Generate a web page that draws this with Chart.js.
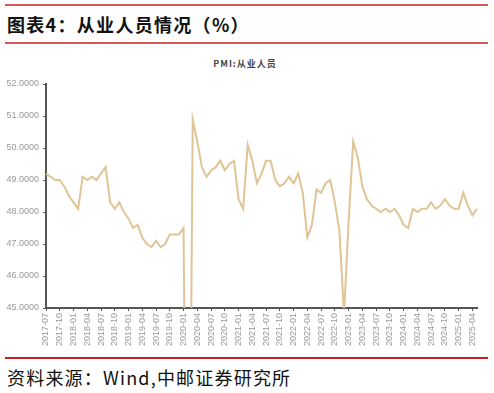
<!DOCTYPE html>
<html>
<head>
<meta charset="utf-8">
<script src="https://cdn.jsdelivr.net/npm/chart.js@4/dist/chart.umd.min.js"></script>
<style>
  body { margin: 0; background: #fff; width: 494px; height: 393px; position: relative; overflow: hidden; }
  .rule { position: absolute; left: 5px; width: 483px; height: 2px; background: #d45a5a; }
  #title { position: absolute; left: 7px; top: 11px; font: bold 18px "Noto Sans CJK SC", sans-serif; letter-spacing: 1.3px; color: #111; }
  #subtitle { position: absolute; left: 0; width: 490px; top: 57px; text-align: center; font: bold 9px "Noto Sans CJK SC", sans-serif; letter-spacing: 1px; color: #444; }
  #source { position: absolute; left: 7px; top: 364px; font: 18px "Noto Sans CJK SC", sans-serif; letter-spacing: 1.2px; color: #111; }
  #wrap { position: absolute; left: 0; top: 45px; }
</style>
</head>
<body>
<div class="rule" style="top:4px"></div>
<div id="title">图表4：从业人员情况（%）</div>
<div class="rule" style="top:42px"></div>
<div id="subtitle">PMI:从业人员</div>
<div id="wrap"><canvas id="myChart" width="494" height="312"></canvas></div>
<div class="rule" style="top:357px; background:#c81e1e"></div>
<div id="source">资料来源：Wind,中邮证券研究所</div>

<script>
// months 2017-07 .. 2025-05
const months = [];
for (let y = 2017, m = 7; y < 2025 || m <= 5; m++) {
  if (m > 12) { m = 1; y++; }
  months.push(y + '-' + String(m).padStart(2, '0'));
}

const employment = [
  49.2, 49.1, 49.0, 49.0, 48.8, 48.5,
  48.3, 48.1, 49.1, 49.0, 49.1, 49.0, 49.2, 49.4, 48.3, 48.1, 48.3, 48.0,
  47.8, 47.5, 47.6, 47.2, 47.0, 46.9, 47.1, 46.9, 47.0, 47.3, 47.3, 47.3,
  47.5, 31.8, 50.9, 50.2, 49.4, 49.1, 49.3, 49.4, 49.6, 49.3, 49.5, 49.6,
  48.4, 48.1, 50.1, 49.6, 48.9, 49.2, 49.6, 49.6, 49.0, 48.8, 48.9, 49.1,
  48.9, 49.2, 48.6, 47.2, 47.6, 48.7, 48.6, 48.9, 49.0, 48.3, 47.4, 44.8,
  47.7, 50.2, 49.7, 48.8, 48.4, 48.2, 48.1, 48.0, 48.1, 48.0, 48.1, 47.9,
  47.6, 47.5, 48.1, 48.0, 48.1, 48.1, 48.3, 48.1, 48.2, 48.4, 48.2, 48.1,
  48.1, 48.6, 48.2, 47.9, 48.1
];

const yMin = 45, yMax = 52;
const tickFont = { family: 'Liberation Sans', size: 9 };

new Chart(document.getElementById('myChart').getContext('2d'), {
  type: 'line',
  data: {
    labels: months,
    datasets: [{
      label: 'PMI:从业人员',
      data: employment,
      borderColor: 'rgb(224, 196, 150)',
      borderWidth: 2,
      pointRadius: 0,
      tension: 0,
      fill: false
    }]
  },
  options: {
    responsive: false,
    devicePixelRatio: 1,
    animation: false,
    layout: { padding: { top: 39, right: 17, bottom: 0, left: 0 } },
    plugins: { legend: { display: false }, tooltip: { enabled: false } },
    scales: {
      x: {
        offset: false,
        border: { color: '#555', width: 2 },
        grid: { drawOnChartArea: false, tickLength: 3, color: '#555' },
        ticks: {
          autoSkip: false,
          maxRotation: 90,
          minRotation: 90,
          color: '#999',
          font: tickFont,
          padding: 2,
          callback: function (v, i) { return i % 3 === 0 ? months[i] : null; }
        },
        afterFit: function (scale) { scale.height = 49; }
      },
      y: {
        min: yMin,
        max: yMax,
        border: { color: '#555', width: 2 },
        grid: { drawOnChartArea: false, tickLength: 3, color: '#555' },
        ticks: {
          stepSize: 1,
          color: '#999',
          font: tickFont,
          padding: 4,
          callback: function (v) { return v.toFixed(4); }
        },
        afterFit: function (scale) { scale.width = 46; }
      }
    }
  }
});
</script>
</body>
</html>
